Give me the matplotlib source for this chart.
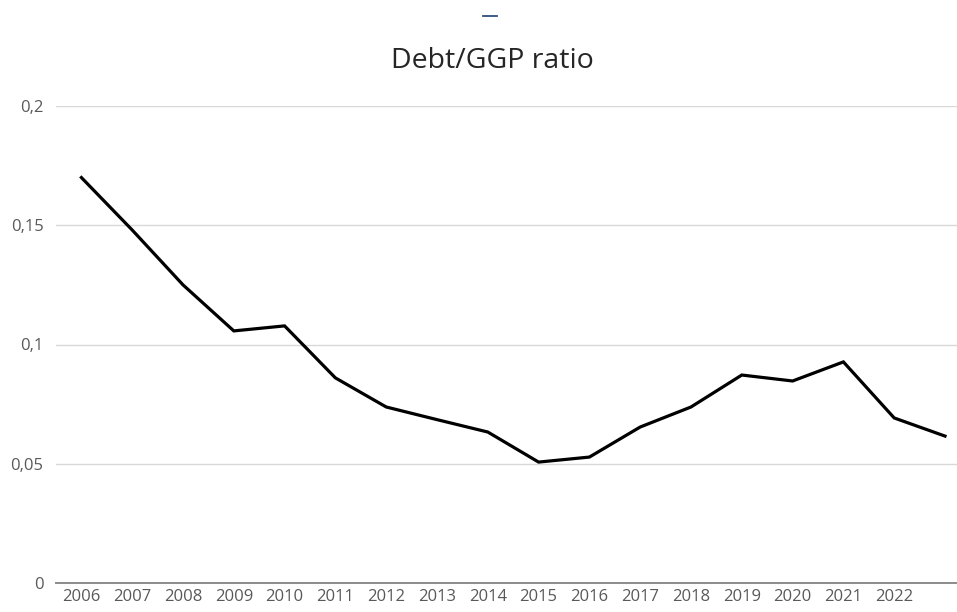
import matplotlib.pyplot as plt
from matplotlib.lines import Line2D

# values
years = ['2006', '2007', '2008', '2009', '2010', '2011', '2012', '2013', '2014',
         '2015', '2016', '2017', '2018', '2019', '2020', '2021', '2022', '']
ratio = [0.170, 0.148, 0.125, 0.1057, 0.1078, 0.086, 0.0738, 0.0685, 0.0633,
         0.0507, 0.0528, 0.0654, 0.0738, 0.0872, 0.0847, 0.0927, 0.0692, 0.0616]
y_ticks = [0, 0.05, 0.1, 0.15, 0.2]
y_labels = ['0', '0,05', '0,1', '0,15', '0,2']

plt.rcParams['font.family'] = ['Open Sans', 'DejaVu Sans']

W, H = 957, 612
fig = plt.figure(figsize=(W / 100, H / 100), dpi=100)
fig.patch.set_facecolor('white')

# axes box in pixel terms: left 56, right at image edge, bottom 583, top 106
left, right, bottom, top = 56, 957, 583, 106
ax = fig.add_axes([left / W, 1 - bottom / H, (right - left) / W, (bottom - top) / H])

x = list(range(len(years)))
ax.plot(x, ratio, color='black', linewidth=2.3, solid_joinstyle='miter')

spacing = 50.8
ax.set_xlim(-0.5, -0.5 + (right - left) / spacing)
ax.set_ylim(0, 0.2)

ax.set_yticks(y_ticks)
ax.set_yticklabels(y_labels)
ax.set_xticks(x)
ax.set_xticklabels(years)

for y in y_ticks[1:]:
    ax.axhline(y, color='#d9d9d9', linewidth=1.0, zorder=0)

for s in ['top', 'right', 'left']:
    ax.spines[s].set_visible(False)
ax.spines['bottom'].set_color('#8c8c8c')
ax.spines['bottom'].set_linewidth(1.4)

ax.tick_params(axis='both', length=0, labelsize=12, labelcolor='#595959')
ax.tick_params(axis='x', pad=4)
ax.tick_params(axis='y', pad=9)

fig.text(492 / W, 1 - 68 / H, 'Debt/GGP ratio', ha='center', va='baseline',
         fontsize=20.5, color='#262626')

# small dash artifact at the top
fig.add_artist(Line2D([483 / W, 497 / W], [1 - 15.5 / H, 1 - 15.5 / H],
                      color='#2f4f7a', linewidth=1.3))

fig.savefig('out.png', dpi=100, facecolor='white')
